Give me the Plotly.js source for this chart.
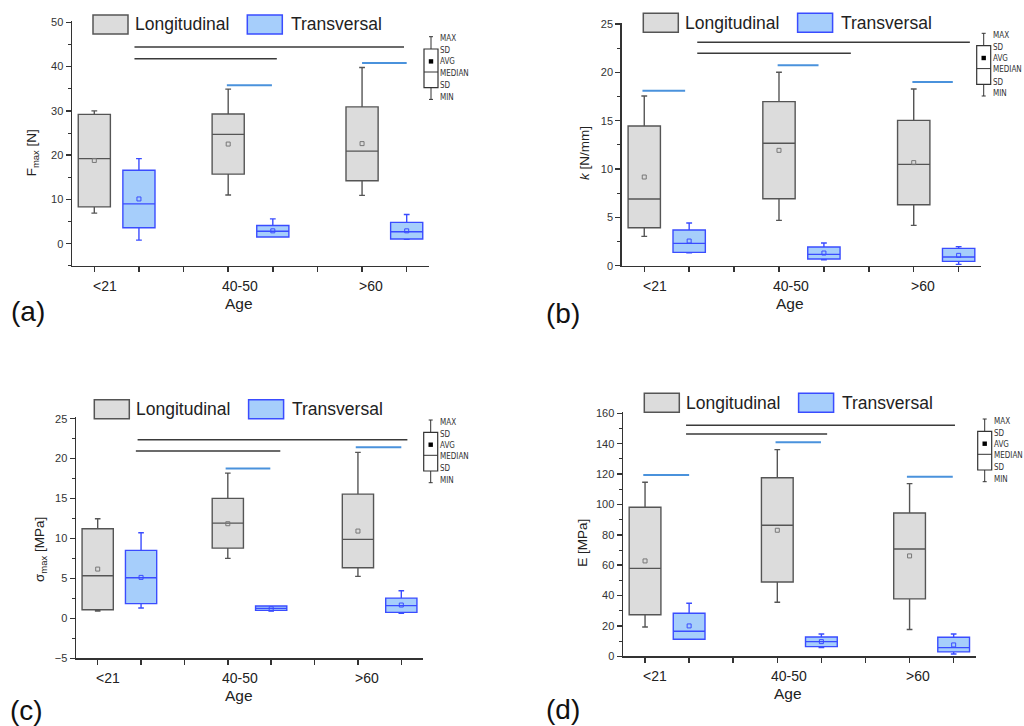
<!DOCTYPE html>
<html><head><meta charset="utf-8">
<script src="https://cdn.plot.ly/plotly-3.0.1.min.js"></script>
<style>html,body{margin:0;padding:0;background:#fff;} #chart{width:1024px;height:726px;}</style>
</head><body><div id="chart"></div>
<script>
// ---------- DATA ----------
const ageGroups = ['<21', '40-50', '>60'];
const posLong = [1, 4, 7];
const posTrans = [2, 5, 8];
const catTicks = [1, 2, 3, 4, 5, 6, 7, 8];
const labelPos = [1.23, 4.27, 7.2];
const legendNames = ['Longitudinal', 'Transversal'];
const keyLabels = ['MAX', 'SD', 'AVG', 'MEDIAN', 'SD', 'MIN'];

// (a) Fmax [N]
const fmaxLongMin = [6.9, 11.0, 10.9];
const fmaxLongQ1 = [8.3, 15.7, 14.2];
const fmaxLongMed = [19.2, 24.7, 20.9];
const fmaxLongQ3 = [29.2, 29.3, 30.9];
const fmaxLongMax = [30.0, 34.9, 39.8];
const fmaxLongAvg = [18.8, 22.5, 22.6];
const fmaxTransMin = [0.8, 1.5, 1.0];
const fmaxTransQ1 = [3.6, 1.5, 1.05];
const fmaxTransMed = [9.0, 2.8, 2.7];
const fmaxTransQ3 = [16.6, 4.1, 4.8];
const fmaxTransMax = [19.2, 5.6, 6.6];
const fmaxTransAvg = [10.1, 2.9, 2.9];
const fmaxSigBlack = [[1.9, 7.94, 44.4], [1.9, 5.09, 41.8]];
const fmaxSigBlue = [[3.97, 4.98, 35.8], [7.0, 8.0, 40.8]];

// (b) k [N/mm]
const kLongMin = [3.03, 4.69, 4.17];
const kLongQ1 = [3.93, 6.93, 6.31];
const kLongMed = [6.9, 12.66, 10.48];
const kLongQ3 = [14.45, 16.97, 15.03];
const kLongMax = [17.55, 20.0, 18.28];
const kLongAvg = [9.17, 11.93, 10.66];
const kTransMin = [1.34, 0.62, 0.14];
const kTransQ1 = [1.38, 0.69, 0.45];
const kTransMed = [2.31, 1.17, 0.9];
const kTransQ3 = [3.69, 1.93, 1.79];
const kTransMax = [4.41, 2.34, 1.97];
const kTransAvg = [2.55, 1.31, 1.07];
const kSigBlack = [[2.18, 8.25, 23.1], [2.18, 5.6, 21.97]];
const kSigBlue = [[0.96, 1.91, 18.1], [3.97, 4.88, 20.72], [6.97, 7.87, 19.0]];

// (c) sigma max [MPa]
const sigLongMin = [0.92, 7.51, 5.26];
const sigLongQ1 = [1.08, 8.8, 6.34];
const sigLongMed = [5.34, 11.93, 9.89];
const sigLongQ3 = [11.22, 15.02, 15.56];
const sigLongMax = [12.47, 18.19, 20.78];
const sigLongAvg = [6.17, 11.85, 10.93];
const sigTransMin = [1.29, 0.92, 0.63];
const sigTransQ1 = [1.84, 1.0, 0.75];
const sigTransMed = [5.09, 1.25, 1.59];
const sigTransQ3 = [8.51, 1.54, 2.54];
const sigTransMax = [10.72, 1.54, 3.46];
const sigTransAvg = [5.13, 1.2, 1.67];
const sigSigBlack = [[1.92, 8.14, 22.36], [1.88, 5.21, 20.94]];
const sigSigBlue = [[3.95, 4.98, 18.77], [6.95, 8.0, 21.44]];

// (d) E [MPa]
const eLongMin = [19.3, 35.6, 17.6];
const eLongQ1 = [27.4, 48.9, 37.8];
const eLongMed = [57.9, 86.3, 70.7];
const eLongQ3 = [98.1, 117.6, 94.4];
const eLongMax = [114.6, 136.1, 113.7];
const eLongAvg = [62.8, 83.0, 66.1];
const eTransMin = [13.0, 5.7, 1.5];
const eTransQ1 = [11.2, 6.4, 2.9];
const eTransMed = [16.5, 9.66, 5.7];
const eTransQ3 = [28.3, 12.7, 12.5];
const eTransMax = [34.9, 14.7, 14.7];
const eTransAvg = [20.0, 9.66, 7.5];
const eSigBlack = [[1.93, 8.03, 152.1], [1.93, 5.13, 146.4]];
const eSigBlue = [[0.96, 2.0, 119.4], [3.96, 4.99, 140.9], [6.94, 7.98, 118.3]];

// ---------- STYLE / LAYOUT ----------
const W = 1024, H = 726;
const PX = p => p / W;
const PY = p => 1 - p / H;
const FONT = 'Liberation Sans, Arial, sans-serif';
const NARROW = 'DejaVu Sans Condensed, Liberation Sans, Arial, sans-serif';
const longFill = '#dcdcdc', longLine = '#555555';
const transFill = '#a6cefb', transLine = '#3a4cff';
const blackSig = '#3a3a3a', blueSig = '#4a92dc';

const panels = [
  {n: '', tag: '(a)', title: 'F<sub>max</sub> [N]',
   long: [fmaxLongMin, fmaxLongQ1, fmaxLongMed, fmaxLongQ3, fmaxLongMax, fmaxLongAvg],
   trans: [fmaxTransMin, fmaxTransQ1, fmaxTransMed, fmaxTransQ3, fmaxTransMax, fmaxTransAvg],
   sigB: fmaxSigBlack, sigU: fmaxSigBlue,
   xd: [72, 429], yd: [21, 265.8], range: [-5, 50.3], dtick: 10, minor: 5,
   tagPos: [27.5, 311.5], titlePos: [33.3, 153], legend: [93, 15], key: [424, 36.7]},
  {n: '2', tag: '(b)', title: '<i>k</i> [N/mm]',
   long: [kLongMin, kLongQ1, kLongMed, kLongQ3, kLongMax, kLongAvg],
   trans: [kTransMin, kTransQ1, kTransMed, kTransQ3, kTransMax, kTransAvg],
   sigB: kSigBlack, sigU: kSigBlue,
   xd: [621.8, 981.1], yd: [23, 265.7], range: [0, 25.1], dtick: 5, minor: 2.5,
   tagPos: [562.5, 313], titlePos: [585, 153], legend: [643.3, 13.3], key: [976.7, 33.3]},
  {n: '3', tag: '(c)', title: 'σ<sub>max</sub> [MPa]',
   long: [sigLongMin, sigLongQ1, sigLongMed, sigLongQ3, sigLongMax, sigLongAvg],
   trans: [sigTransMin, sigTransQ1, sigTransMed, sigTransQ3, sigTransMax, sigTransAvg],
   sigB: sigSigBlack, sigU: sigSigBlue,
   xd: [76, 423], yd: [417.1, 658.3], range: [-5, 25.2], dtick: 5, minor: 2.5,
   tagPos: [26.7, 710], titlePos: [40, 550], legend: [94.3, 399.7], key: [423.7, 420]},
  {n: '4', tag: '(d)', title: 'E [MPa]',
   long: [eLongMin, eLongQ1, eLongMed, eLongQ3, eLongMax, eLongAvg],
   trans: [eTransMin, eTransQ1, eTransMed, eTransQ3, eTransMax, eTransAvg],
   sigB: eSigBlack, sigU: eSigBlue,
   xd: [623, 975.7], yd: [411.8, 656.3], range: [0, 161], dtick: 20, minor: 10,
   tagPos: [562.5, 709], titlePos: [581.7, 543], legend: [644.3, 393.3], key: [977.7, 419]}
];

const traces = [];
const layout = {
  width: W, height: H, margin: {l: 0, r: 0, t: 0, b: 0},
  paper_bgcolor: '#fff', plot_bgcolor: 'rgba(0,0,0,0)',
  showlegend: false, font: {family: FONT, color: '#222'},
  shapes: [], annotations: []
};

function sigTrace(list, color, width, xa, ya) {
  const xs = [], ys = [];
  list.forEach(s => { xs.push(s[0], s[1], null); ys.push(s[2], s[2], null); });
  return {type: 'scatter', mode: 'lines', x: xs, y: ys, xaxis: xa, yaxis: ya,
          line: {color: color, width: width}, hoverinfo: 'skip'};
}

function boxTrace(pos, st, fill, line, name, xa, ya) {
  return {type: 'box', name: name, x: pos, lowerfence: st[0], q1: st[1], median: st[2],
          q3: st[3], upperfence: st[4], width: 0.72, whiskerwidth: 0.18,
          fillcolor: fill, line: {color: line, width: 1.4}, boxpoints: false,
          xaxis: xa, yaxis: ya};
}

panels.forEach(p => {
  const xa = 'x' + p.n, ya = 'y' + p.n;
  traces.push(boxTrace(posLong, p.long, longFill, longLine, legendNames[0], xa, ya));
  traces.push(boxTrace(posTrans, p.trans, transFill, transLine, legendNames[1], xa, ya));
  traces.push({type: 'scatter', mode: 'markers', x: posLong, y: p.long[5], xaxis: xa, yaxis: ya,
               marker: {symbol: 'square-open', size: 4, color: '#777', line: {width: 1}}});
  traces.push({type: 'scatter', mode: 'markers', x: posTrans, y: p.trans[5], xaxis: xa, yaxis: ya,
               marker: {symbol: 'square-open', size: 4, color: transLine, line: {width: 1}}});
  traces.push(sigTrace(p.sigB, blackSig, 1.5, xa, ya));
  traces.push(sigTrace(p.sigU, blueSig, 2, xa, ya));

  layout['xaxis' + p.n] = {
    domain: [PX(p.xd[0]), PX(p.xd[1])], range: [0.5, 8.5], anchor: ya,
    tickmode: 'array', tickvals: catTicks, showticklabels: false,
    ticks: 'outside', ticklen: 5, tickwidth: 1.5, tickcolor: '#333',
    showline: true, linecolor: '#333', linewidth: 1.5, showgrid: false, zeroline: false, fixedrange: true
  };
  layout['yaxis' + p.n] = {
    domain: [PY(p.yd[1]), PY(p.yd[0])], range: p.range, anchor: xa,
    tick0: 0, dtick: p.dtick, ticks: 'outside', ticklen: 5, tickwidth: 1.5, tickcolor: '#333',
    minor: {ticks: 'outside', dtick: p.minor, ticklen: 3, tickwidth: 1, tickcolor: '#333', showgrid: false},
    tickfont: {size: 11, color: '#333', family: FONT},
    showline: true, linecolor: '#333', linewidth: 1.5, showgrid: false, zeroline: false, fixedrange: true
  };

  const axisBottom = p.yd[1];
  ageGroups.forEach((g, i) => layout.annotations.push({
    xref: xa, yref: 'paper', x: labelPos[i], y: PY(axisBottom + 20), text: g,
    showarrow: false, xanchor: 'center', yanchor: 'middle', font: {size: 14, color: '#222'}}));
  layout.annotations.push({xref: xa, yref: 'paper', x: 4.25, y: PY(axisBottom + 37.5), text: 'Age',
    showarrow: false, xanchor: 'center', yanchor: 'middle', font: {size: 15.5, color: '#222'}});
  layout.annotations.push({xref: 'paper', yref: 'paper', x: PX(p.titlePos[0]), y: PY(p.titlePos[1]),
    text: p.title, textangle: -90, showarrow: false, xanchor: 'center', yanchor: 'middle',
    font: {size: 13.5, color: '#222'}});
  layout.annotations.push({xref: 'paper', yref: 'paper', x: PX(p.tagPos[0]), y: PY(p.tagPos[1]),
    text: p.tag, showarrow: false, xanchor: 'center', yanchor: 'middle', font: {size: 28, color: '#111'}});

  const lx = p.legend[0], ly = p.legend[1];
  [[lx, longFill, longLine, 40], [lx + 154.3, transFill, transLine, 41.5]].forEach((s, i) => {
    layout.shapes.push({type: 'rect', xref: 'paper', yref: 'paper',
      x0: PX(s[0]), x1: PX(s[0] + 35), y0: PY(ly + 19), y1: PY(ly),
      fillcolor: s[1], line: {color: s[2], width: 1.5}});
    layout.annotations.push({xref: 'paper', yref: 'paper', x: PX(s[0] + s[3]), y: PY(ly + 9.5),
      text: legendNames[i], showarrow: false, xanchor: 'left', yanchor: 'middle',
      font: {size: 17.5, color: '#222'}});
  });

  const kx = p.key[0], kt = p.key[1], cx = kx + 7;
  const L = (x0, y0, x1, y1, w) => layout.shapes.push({type: 'line', xref: 'paper', yref: 'paper',
    x0: PX(x0), y0: PY(y0), x1: PX(x1), y1: PY(y1), line: {color: '#333', width: w || 1}});
  L(cx, kt, cx, kt + 12.3); L(cx - 2, kt, cx + 2, kt);
  L(cx, kt + 51, cx, kt + 62.7); L(cx - 2, kt + 62.7, cx + 2, kt + 62.7);
  layout.shapes.push({type: 'rect', xref: 'paper', yref: 'paper', x0: PX(kx), x1: PX(kx + 14),
    y0: PY(kt + 51), y1: PY(kt + 12.3), fillcolor: '#fff', line: {color: '#333', width: 1.2}});
  L(kx, kt + 35.3, kx + 14, kt + 35.3);
  layout.shapes.push({type: 'rect', xref: 'paper', yref: 'paper', x0: PX(cx - 2.2), x1: PX(cx + 2.2),
    y0: PY(kt + 24.7 + 2.2), y1: PY(kt + 24.7 - 2.2), fillcolor: '#000', line: {width: 0}});
  const ky = [2, 14, 25.3, 36.7, 48.7, 60.7];
  keyLabels.forEach((t, i) => layout.annotations.push({xref: 'paper', yref: 'paper',
    x: PX(kx + 15), y: PY(kt + ky[i]), text: t, showarrow: false, xanchor: 'left', yanchor: 'middle',
    borderpad: 0, font: {size: 8, family: NARROW, color: '#333'}}));
});

Plotly.newPlot('chart', traces, layout, {displayModeBar: false, staticPlot: true});
</script>
</body></html>
